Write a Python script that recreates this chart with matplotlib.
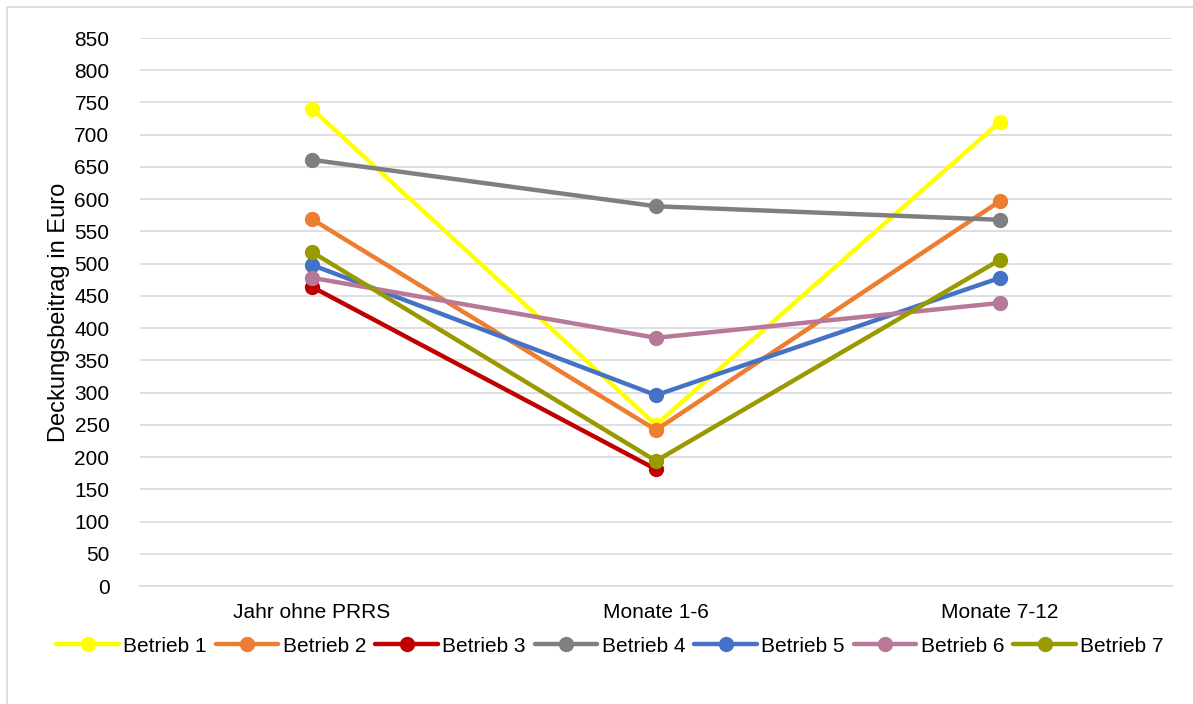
import matplotlib.pyplot as plt
import numpy as np
from matplotlib.patches import Rectangle

categories = ["Jahr ohne PRRS", "Monate 1-6", "Monate 7-12"]
betrieb_1 = [740, 250, 720]
betrieb_2 = [569, 242, 597]
betrieb_3 = [464, 181, np.nan]
betrieb_4 = [661, 589, 568]
betrieb_5 = [498, 296, 478]
betrieb_6 = [478, 385, 439]
betrieb_7 = [518, 194, 506]

series = [
    ("Betrieb 1", betrieb_1, "#ffff00"),
    ("Betrieb 2", betrieb_2, "#ed7d31"),
    ("Betrieb 3", betrieb_3, "#c00000"),
    ("Betrieb 4", betrieb_4, "#7f7f7f"),
    ("Betrieb 5", betrieb_5, "#4472c4"),
    ("Betrieb 6", betrieb_6, "#b87898"),
    ("Betrieb 7", betrieb_7, "#999900"),
]

plt.rcParams['font.family'] = ['Liberation Sans', 'DejaVu Sans']

W, H = 1193, 704
fig = plt.figure(figsize=(W / 100, H / 100), dpi=100)
ax = fig.add_axes([140 / W, 1 - 586 / H, (1172 - 140) / W, (586 - 38) / H])

x = np.arange(len(categories))
for name, vals, color in series:
    ax.plot(x, vals, color=color, lw=3.2, marker='o', markersize=10,
            label=name, solid_capstyle='round')

ax.set_xlim(-0.5, 2.5)
ax.set_ylim(0, 850)
ax.set_yticks(np.arange(0, 851, 50))
ax.set_xticks(x)
ax.set_xticklabels(categories)
ax.grid(axis='y', color='#d9d9d9', lw=1.2)
ax.set_axisbelow(True)
for s in ['top', 'right', 'left']:
    ax.spines[s].set_visible(False)
ax.spines['bottom'].set_color('#d9d9d9')
ax.spines['bottom'].set_linewidth(1.2)
ax.tick_params(axis='y', length=0, labelsize=15, pad=22)
ax.tick_params(axis='x', length=0, labelsize=15, pad=12)
ax.set_ylabel("Deckungsbeitrag in Euro", fontsize=17)
ax.yaxis.set_label_coords(-70 / 1032, 0.5)

fig.legend(loc='center', bbox_to_anchor=(610 / W, 1 - 646 / H), ncol=7,
           frameon=False, fontsize=15, handlelength=3.0, handletextpad=0.2,
           columnspacing=0.45)

fig.patches.append(Rectangle((7 / W, -0.01), 1.2, 1 - 7 / H + 0.01,
                             transform=fig.transFigure, fill=False,
                             edgecolor='#d9d9d9', lw=1.2))

plt.savefig('out.png', dpi=100)
